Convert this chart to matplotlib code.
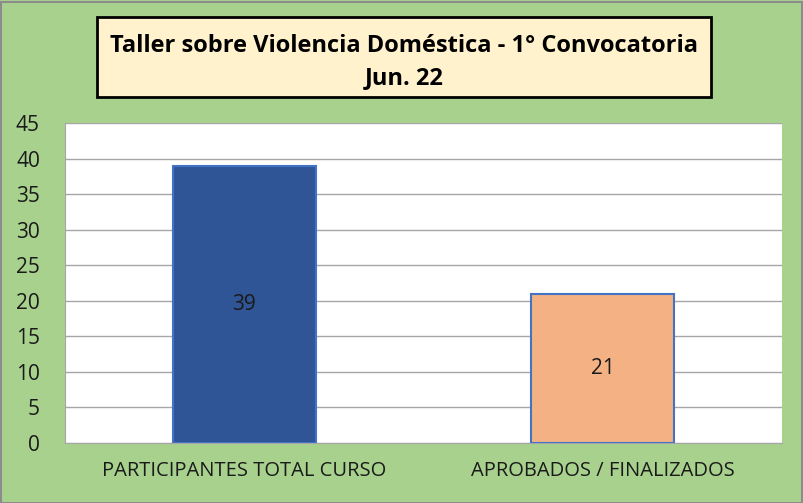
import matplotlib.pyplot as plt
from matplotlib.patches import Rectangle

categories = ["PARTICIPANTES TOTAL CURSO", "APROBADOS / FINALIZADOS"]
values = [39, 21]
bar_colors = ["#2F5597", "#F4B183"]
title_text = "Taller sobre Violencia Doméstica - 1° Convocatoria\nJun. 22"

plt.rcParams["font.family"] = ["Open Sans", "DejaVu Sans"]

fig = plt.figure(figsize=(8.04, 5.03), dpi=100, facecolor="#A9D18E")
W, H = 804, 503
ax = fig.add_axes([65 / W, 1 - 443 / H, 717 / W, 320 / H])
ax.set_facecolor("white")

x = range(len(categories))
bars = ax.bar(x, values, width=0.4, color=bar_colors, edgecolor="#4472C4", linewidth=1.5, zorder=3)
for b, v in zip(bars, values):
    ax.text(b.get_x() + b.get_width() / 2, v / 2, str(v), ha="center", va="center",
            fontsize=15, color="#1a1a1a", zorder=4)

ax.set_xlim(-0.5, 1.5)
ax.set_ylim(0, 45)
ax.set_yticks(range(0, 46, 5))
ax.yaxis.grid(True, color="#A6A6A6", linewidth=1, zorder=0)
ax.set_xticks(list(x))
ax.set_xticklabels(categories, fontsize=14.5, color="#1a1a1a")
ax.tick_params(axis="y", labelsize=15, labelcolor="#1a1a1a", length=0, pad=18)
ax.tick_params(axis="x", length=0, pad=13)
for s in ["top", "right"]:
    ax.spines[s].set_visible(False)
for s in ["left", "bottom"]:
    ax.spines[s].set_color("#A6A6A6")

# title box
fig.patches.append(Rectangle((97 / W, 1 - 97 / H), 614 / W, 80 / H, transform=fig.transFigure,
                             facecolor="#FFF2CC", edgecolor="black", linewidth=2))
fig.text(404 / W, 1 - 62 / H, title_text, ha="center", va="center", fontsize=17,
         fontweight="bold", linespacing=1.42, color="black")

# outer border
fig.patches.append(Rectangle((0.5 / W, 0.5 / H), 1 - 2 / W, 1 - 2 / H, transform=fig.transFigure,
                             facecolor="none", edgecolor="#8C8C8C", linewidth=1.5))

fig.savefig("out.png", dpi=100, facecolor=fig.get_facecolor())
